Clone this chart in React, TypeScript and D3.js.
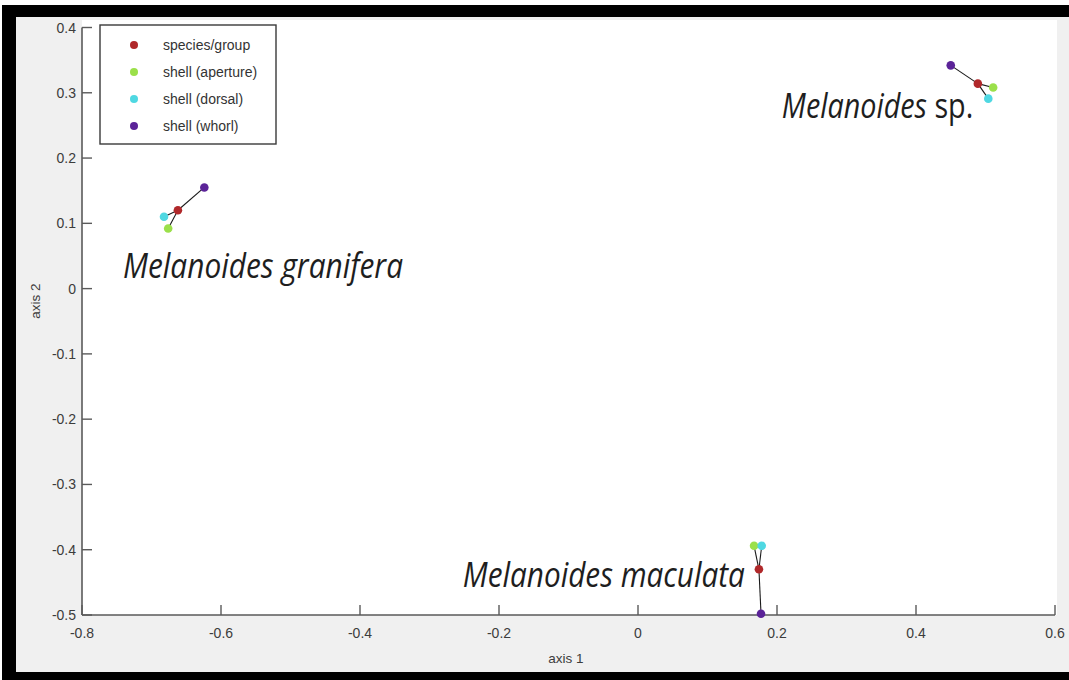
import React from "react";
import * as d3 from "d3";

const species = ["Melanoides sp.", "Melanoides granifera", "Melanoides maculata"];
const groupX = [0.489, -0.662, 0.174];
const groupY = [0.314, 0.12, -0.43];
const apertureX = [0.511, -0.676, 0.167];
const apertureY = [0.308, 0.092, -0.394];
const dorsalX = [0.504, -0.682, 0.178];
const dorsalY = [0.291, 0.11, -0.394];
const whorlX = [0.45, -0.624, 0.177];
const whorlY = [0.342, 0.155, -0.498];

const legendNames = ["species/group", "shell (aperture)", "shell (dorsal)", "shell (whorl)"];
const legendColors = ["#b0282a", "#9be04a", "#4fd8e2", "#5b2398"];

const xTicks = [-0.8, -0.6, -0.4, -0.2, 0, 0.2, 0.4, 0.6];
const yTicks = [0.4, 0.3, 0.2, 0.1, 0, -0.1, -0.2, -0.3, -0.4, -0.5];

// label anchors (data coordinates)
const labelX = [0.207, -0.741, -0.252];
const labelY = [0.262, 0.016, -0.457];

const W = 1069;
const H = 680;

export default function App() {
  const x = d3.scaleLinear().domain([-0.8, 0.6]).range([82, 1055]);
  const y = d3.scaleLinear().domain([-0.5, 0.4]).range([615, 27.5]);
  const fmt = (v: number) => String(v);
  const tickFont = "'Liberation Sans', Arial, sans-serif";
  const axisCol = "#5a5a5a";
  const textCol = "#3c3c3c";

  const sets = [
    { xs: apertureX, ys: apertureY, c: legendColors[1] },
    { xs: dorsalX, ys: dorsalY, c: legendColors[2] },
    { xs: whorlX, ys: whorlY, c: legendColors[3] },
  ];
  const labelW = [191, 280, 282];
  const labelFont = "'Open Sans', sans-serif";

  return (
    <div style={{ position: "absolute", left: 0, top: 0 }}>
      <svg width={W} height={H} style={{ display: "block" }}>
        <rect x={0} y={0} width={W} height={H} fill="#ffffff" />
        <rect x={2} y={5} width={W - 2} height={H - 5} fill="#000000" />
        <rect x={16} y={17} width={W - 16} height={655} fill="#f0f0f0" />
        <rect x={x(-0.8)} y={20} width={1057 - x(-0.8)} height={y(-0.5) - 20} fill="#ffffff" />

        {/* axes */}
        <line x1={x(-0.8)} x2={x(0.6)} y1={y(-0.5)} y2={y(-0.5)} stroke={axisCol} strokeWidth={1.6} />
        <line x1={x(-0.8)} x2={x(-0.8)} y1={y(-0.5)} y2={y(0.4)} stroke={axisCol} strokeWidth={1.6} />
        {xTicks.map((t) => (
          <g key={"xt" + t}>
            <line x1={x(t)} x2={x(t)} y1={y(-0.5)} y2={y(-0.5) - 10} stroke={axisCol} strokeWidth={1.4} />
            <text x={x(t)} y={638} textAnchor="middle" fontFamily={tickFont} fontSize={14} fill={textCol}>
              {fmt(t)}
            </text>
          </g>
        ))}
        {yTicks.map((t) => (
          <g key={"yt" + t}>
            <line x1={x(-0.8)} x2={x(-0.8) + 10} y1={y(t)} y2={y(t)} stroke={axisCol} strokeWidth={1.4} />
            <text x={76} y={y(t) + 5} textAnchor="end" fontFamily={tickFont} fontSize={14} fill={textCol}>
              {fmt(t)}
            </text>
          </g>
        ))}
        <text x={566} y={663} textAnchor="middle" fontFamily={tickFont} fontSize={13.5} fill={textCol}>
          axis 1
        </text>
        <text
          transform={`translate(40,${301}) rotate(-90)`}
          textAnchor="middle"
          fontFamily={tickFont}
          fontSize={13.5}
          fill={textCol}
        >
          axis 2
        </text>

        {/* connecting lines */}
        {species.map((s, i) =>
          sets.map((st, j) => (
            <line
              key={"l" + i + "-" + j}
              x1={x(groupX[i])}
              y1={y(groupY[i])}
              x2={x(st.xs[i])}
              y2={y(st.ys[i])}
              stroke="#1a1a1a"
              strokeWidth={1.1}
            />
          ))
        )}
        {/* points */}
        {species.map((s, i) => (
          <g key={"p" + i}>
            {sets.map((st, j) => (
              <circle key={j} cx={x(st.xs[i])} cy={y(st.ys[i])} r={4.3} fill={st.c} />
            ))}
            <circle cx={x(groupX[i])} cy={y(groupY[i])} r={4.3} fill={legendColors[0]} />
          </g>
        ))}

        {/* species labels */}
        {species.map((s, i) => {
          const parts = s.split(" ");
          const x0 = x(labelX[i]);
          const y0 = y(labelY[i]);
          if (parts[1] === "sp.") {
            return (
              <g key={"lab" + i} transform={`translate(${x0},${y0}) scale(0.845,1)`}>
                <text x={0} y={0} fontFamily={labelFont} fontSize={34} fill="#1e1e1e">
                  <tspan fontStyle="italic">{parts[0]}</tspan>
                  <tspan fontStyle="normal">{" " + parts[1]}</tspan>
                </text>
              </g>
            );
          }
          return (
            <text
              key={"lab" + i}
              x={x0}
              y={y0}
              fontFamily={labelFont}
              fontSize={34}
              fontStyle="italic"
              fill="#1e1e1e"
              textLength={labelW[i]}
              lengthAdjust="spacingAndGlyphs"
            >
              {s}
            </text>
          );
        })}

        {/* legend */}
        <rect x={100} y={25} width={176} height={119} fill="#ffffff" stroke="#3a3a3a" strokeWidth={1.4} />
        {legendNames.map((n, i) => (
          <g key={"lg" + i}>
            <circle cx={134} cy={45 + i * 27} r={4} fill={legendColors[i]} />
            <text x={163} y={45 + i * 27 + 5} fontFamily={tickFont} fontSize={14} fill="#333333">
              {n}
            </text>
          </g>
        ))}
      </svg>
    </div>
  );
}
